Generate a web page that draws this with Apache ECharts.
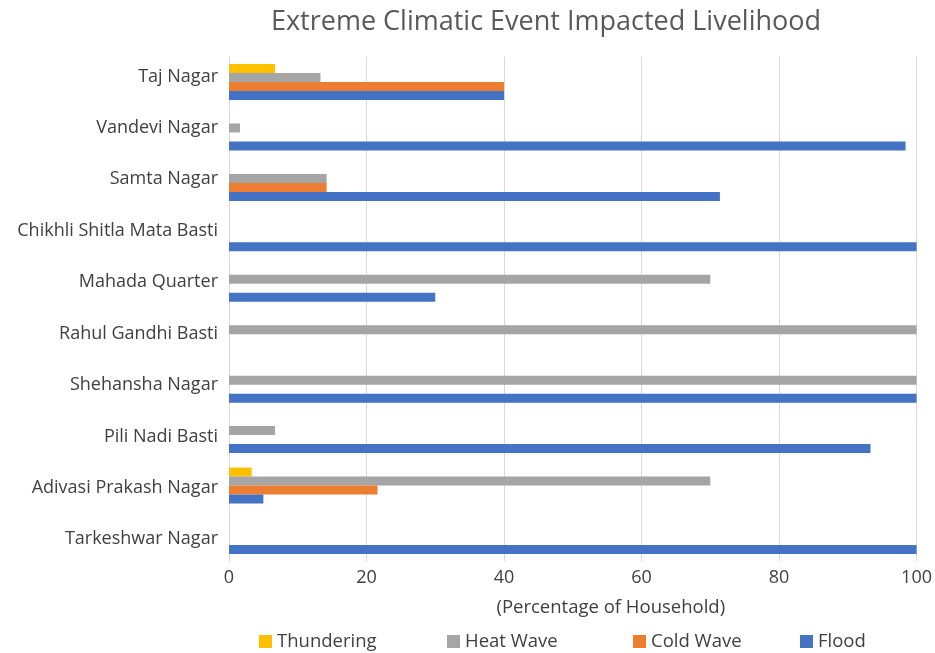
<!DOCTYPE html>
<html>
<head>
<meta charset="utf-8">
<script src="https://cdn.jsdelivr.net/npm/echarts@6/dist/echarts.min.js"></script>
<style>html,body{margin:0;padding:0;background:#fff;}#c{width:935px;height:653px;}</style>
</head>
<body>
<div id="c"></div>
<script>
const categories = ["Taj Nagar","Vandevi Nagar","Samta Nagar","Chikhli Shitla Mata Basti","Mahada Quarter","Rahul Gandhi Basti","Shehansha Nagar","Pili Nadi Basti","Adivasi Prakash Nagar","Tarkeshwar Nagar"];
const seriesNames = ['Thundering','Heat Wave','Cold Wave','Flood'];
const thundering = [6.7, 0, 0, 0, 0, 0, 0, 0, 3.3, 0];
const heatWave   = [13.3, 1.6, 14.2, 0, 70, 100, 100, 6.7, 70, 0];
const coldWave   = [40, 0, 14.2, 0, 0, 0, 0, 0, 21.6, 0];
const flood      = [40, 98.4, 71.4, 100, 30, 0, 100, 93.3, 5, 100];
const xTicks = [0, 20, 40, 60, 80, 100];

const colors = ['#FFC000', '#A5A5A5', '#ED7D31', '#4472C4'];
const values = [thundering, heatWave, coldWave, flood];
const legendLeft = [259, 447, 633, 800];
const font = '"Open Sans", "Noto Sans", sans-serif';
const chart = echarts.init(document.getElementById('c'), null, {renderer:'canvas'});

chart.setOption({
  animation:false,
  textStyle:{fontFamily:font},
  title:{text:'Extreme Climatic Event Impacted Livelihood', left:541, textAlign:'center', top:4,
    textStyle:{fontSize:27, fontWeight:'normal', color:'#595959', fontFamily:font}},
  legend: seriesNames.map((n, i) => ({
    data:[n], left:legendLeft[i], top:632, padding:0, itemWidth:13, itemHeight:13, icon:'rect',
    selectedMode:false,
    textStyle:{fontSize:18.5, color:'#404040', fontFamily:font}
  })),
  grid:[
    {left:229, right:16, top:56.8, bottom:91.8, containLabel:false},
    {left:229, right:16, top:50.8, bottom:88, containLabel:false}
  ],
  xAxis:[
    {type:'value', gridIndex:0, min:xTicks[0], max:xTicks[xTicks.length-1], interval:xTicks[1]-xTicks[0],
      name:'(Percentage of Household)', nameLocation:'middle', nameGap:37,
      nameTextStyle:{fontSize:18.5, color:'#404040', padding:[0,0,0,76]},
      axisLine:{show:false}, axisTick:{show:false},
      axisLabel:{fontSize:18, color:'#404040', margin:8},
      splitLine:{lineStyle:{color:'#d9d9d9', width:1}}},
    {type:'value', gridIndex:1, min:0, max:100, show:false}
  ],
  yAxis:[
    {type:'category', gridIndex:0, inverse:true, data:categories,
      axisLine:{show:true, lineStyle:{color:'#d9d9d9'}}, axisTick:{show:false},
      axisLabel:{show:false}},
    {type:'category', gridIndex:1, inverse:true, data:categories,
      axisLine:{show:false}, axisTick:{show:false}, splitLine:{show:false},
      axisLabel:{fontSize:18, color:'#404040', margin:11}}
  ],
  series: seriesNames.map((n, i) => ({
    name:n, type:'bar', xAxisIndex:0, yAxisIndex:0, data:values[i],
    barWidth:9, barGap:'0%', itemStyle:{color:colors[i]}
  }))
});
</script>
</body>
</html>
